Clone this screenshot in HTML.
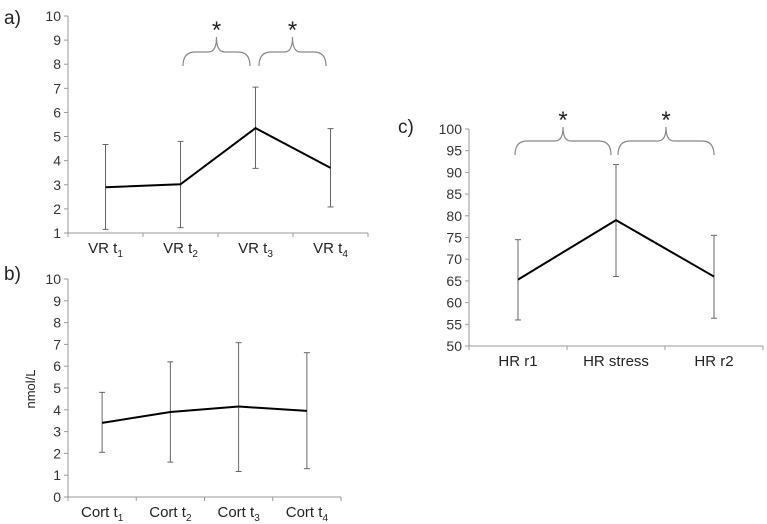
<!DOCTYPE html>
<html><head><meta charset="utf-8"><style>
body{margin:0;background:#fff;}
svg{display:block;font-family:"Liberation Sans",sans-serif;}
</style></head><body>
<svg id="s" width="767" height="524"></svg>
<script>
const aCats=["VR t","VR t","VR t","VR t"], aSubs=["1","2","3","4"];
const aVals=[2.9,3.02,5.35,3.7], aLo=[1.15,1.22,3.68,2.08], aHi=[4.67,4.8,7.05,5.33];
const aTicks=[1,2,3,4,5,6,7,8,9,10];
const bCats=["Cort t","Cort t","Cort t","Cort t"], bSubs=["1","2","3","4"];
const bVals=[3.4,3.9,4.15,3.95], bLo=[2.05,1.6,1.17,1.3], bHi=[4.8,6.2,7.08,6.62];
const bTicks=[0,1,2,3,4,5,6,7,8,9,10];
const cCats=["HR r1","HR stress","HR r2"], cSubs=["","",""];
const cVals=[65.3,79,66], cLo=[56,66,56.4], cHi=[74.5,91.8,75.5];
const cTicks=[50,55,60,65,70,75,80,85,90,95,100];
const NS="http://www.w3.org/2000/svg", svg=document.getElementById('s');
function el(t,a,p){const e=document.createElementNS(NS,t);for(const k in a)e.setAttribute(k,a[k]);(p||svg).appendChild(e);return e;}
function chart(id,cfg){
 const g=el('g',{});
 
 
 const {x0,x1,yTop,yBot,min,max,ticks,cats,subs,vals,lo,hi}=cfg;
 const n=cats.length, bw=(x1-x0)/n;
 const X=i=>x0+bw*(i+0.5), Y=v=>yBot-(v-min)/(max-min)*(yBot-yTop);
 el('line',{x1:x0,y1:yTop,x2:x0,y2:yBot,stroke:'#999'},g);
 el('line',{x1:x0,y1:yBot,x2:x1,y2:yBot,stroke:'#999'},g);
 ticks.forEach(t=>{el('line',{x1:x0-4,y1:Y(t),x2:x0,y2:Y(t),stroke:'#999'},g);
  const tx=el('text',{x:x0-7,y:Y(t)+5,'text-anchor':'end','font-size':14,fill:'#333'},g);tx.textContent=t;
  });
 for(let i=0;i<=n;i++)el('line',{x1:x0+bw*i,y1:yBot,x2:x0+bw*i,y2:yBot+4,stroke:'#999'},g);
 cats.forEach((c,i)=>{const tx=el('text',{x:X(i),y:yBot+20,'text-anchor':'middle','font-size':15,fill:'#222'},g);
  
  tx.appendChild(document.createTextNode(c));
  if(subs[i]){const ts=el('tspan',{'font-size':10,dy:4},tx);ts.textContent=subs[i];}});
 vals.forEach((v,i)=>{const e=el('g',{},g);
  el('line',{x1:X(i),y1:Y(lo[i]),x2:X(i),y2:Y(hi[i]),stroke:'#666'},e);
  el('line',{x1:X(i)-3,y1:Y(lo[i]),x2:X(i)+3,y2:Y(lo[i]),stroke:'#666'},e);
  el('line',{x1:X(i)-3,y1:Y(hi[i]),x2:X(i)+3,y2:Y(hi[i]),stroke:'#666'},e);});
 const p=el('polyline',{points:vals.map((v,i)=>X(i)+','+Y(v)).join(' '),fill:'none',stroke:'#000','stroke-width':2},g);
 
}
function brace(xa,xb,yEnd,yMid,yTip){const m=(xa+xb)/2;
 const b=el('path',{d:`M${xa},${yEnd} Q${xa},${yMid} ${xa+12},${yMid} L${m-8},${yMid} Q${m},${yMid} ${m},${yTip} Q${m},${yMid} ${m+8},${yMid} L${xb-12},${yMid} Q${xb},${yMid} ${xb},${yEnd}`,fill:'none',stroke:'#888','stroke-width':1.2});
 
 const s=el('text',{x:m,y:yTip+1,'text-anchor':'middle','font-size':24,fill:'#222'});s.textContent='*';
 }
chart('chart-a',{x0:68,x1:368,yTop:16,yBot:233,min:1,max:10,ticks:aTicks,cats:aCats,subs:aSubs,vals:aVals,lo:aLo,hi:aHi});
chart('chart-b',{x0:68,x1:341,yTop:279,yBot:497,min:0,max:10,ticks:bTicks,cats:bCats,subs:bSubs,vals:bVals,lo:bLo,hi:bHi});
chart('chart-c',{x0:469,x1:763,yTop:129,yBot:346,min:50,max:100,ticks:cTicks,cats:cCats,subs:cSubs,vals:cVals,lo:cLo,hi:cHi});
brace(183,250,66,52,37);brace(259,326,66,52,37);
brace(515,611,155,141,127);brace(618,714,155,141,127);
[['a)',4,24,'panel-label-a'],['b)',4,280,'panel-label-b'],['c)',398,133,'panel-label-c']].forEach(l=>{
 const t=el('text',{x:l[1],y:l[2],'font-size':19,fill:'#222'});t.textContent=l[0];
 });
const yl=el('text',{x:0,y:0,transform:'translate(35,389) rotate(-90)','text-anchor':'middle','font-size':13,fill:'#222'});
yl.textContent='nmol/L';


</script>
</body></html>
